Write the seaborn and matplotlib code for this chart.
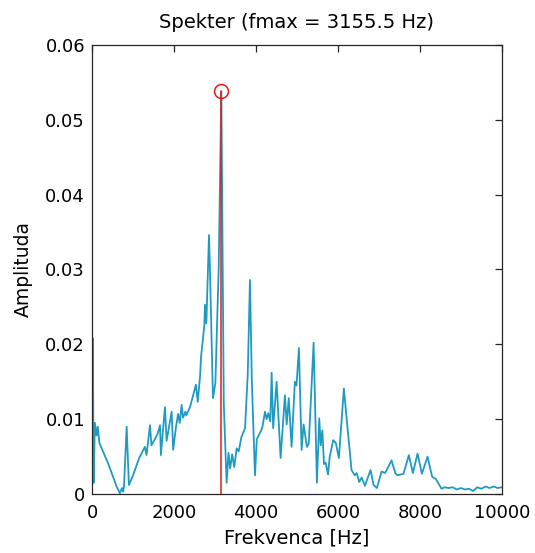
import matplotlib
matplotlib.use("Agg")
import matplotlib.pyplot as plt
import seaborn as sns
import pandas as pd

freq_hz = [0, 20, 40, 70, 110, 140, 180, 400, 600, 680, 730, 760, 780, 845, 900, 1000,
           1150, 1290, 1330, 1415, 1450, 1600, 1660, 1680, 1780, 1820, 1943, 1980, 2050,
           2100, 2140, 2187, 2220, 2280, 2300, 2390, 2536, 2580, 2640, 2658, 2740, 2756,
           2790, 2854, 2880, 2951, 3010, 3090, 3155.5, 3215, 3285, 3330, 3370, 3420, 3470,
           3530, 3580, 3640, 3734, 3800, 3854, 3900, 3976, 4020, 4080, 4120, 4160, 4220,
           4260, 4300, 4350, 4383, 4420, 4504, 4602, 4707, 4750, 4800, 4870, 4950, 4990,
           5049, 5114, 5163, 5244, 5290, 5407, 5488, 5545, 5580, 5620, 5660, 5700, 5760,
           5800, 5886, 5950, 6024, 6146, 6240, 6333, 6410, 6460, 6520, 6580, 6659, 6797,
           6870, 6951, 7065, 7150, 7200, 7309, 7400, 7450, 7600, 7732, 7830, 7943, 8050,
           8187, 8300, 8390, 8528, 8600, 8700, 8800, 8900, 9000, 9100, 9200, 9300, 9400,
           9500, 9600, 9700, 9800, 9900, 10000]
amplitude = [0.0010, 0.0208, 0.0015, 0.0095, 0.0078, 0.0090, 0.0068, 0.0040, 0.0010, 0.0001,
             0.0008, 0.0003, 0.0010, 0.0090, 0.0012, 0.0025, 0.0048, 0.0063, 0.0052, 0.0092,
             0.0065, 0.0080, 0.0092, 0.0052, 0.0116, 0.0071, 0.0110, 0.0059, 0.0090, 0.0107,
             0.0095, 0.0119, 0.0102, 0.0110, 0.0105, 0.0116, 0.0146, 0.0123, 0.0160, 0.0182,
             0.0225, 0.0253, 0.0228, 0.0346, 0.0295, 0.0128, 0.0148, 0.0300, 0.0538, 0.0120,
             0.0015, 0.0055, 0.0034, 0.0053, 0.0036, 0.0061, 0.0057, 0.0075, 0.0088, 0.0160,
             0.0286, 0.0150, 0.0025, 0.0073, 0.0080, 0.0084, 0.0090, 0.0110, 0.0100, 0.0108,
             0.0097, 0.0162, 0.0088, 0.0150, 0.0048, 0.0132, 0.0093, 0.0128, 0.0063, 0.0150,
             0.0145, 0.0195, 0.0059, 0.0093, 0.0063, 0.0068, 0.0202, 0.0015, 0.0101, 0.0065,
             0.0085, 0.0040, 0.0042, 0.0026, 0.0050, 0.0072, 0.0068, 0.0048, 0.0141, 0.0085,
             0.0032, 0.0025, 0.0028, 0.0016, 0.0022, 0.0011, 0.0032, 0.0012, 0.0008, 0.0030,
             0.0028, 0.0033, 0.0045, 0.0028, 0.0025, 0.0027, 0.0052, 0.0028, 0.0054, 0.0027,
             0.0050, 0.0023, 0.0020, 0.0007, 0.0009, 0.0008, 0.0009, 0.0006, 0.0008, 0.0006,
             0.0007, 0.0004, 0.0009, 0.0007, 0.0010, 0.0008, 0.0010, 0.0008, 0.0009]

f_max = 3155.5
a_max = 0.0538

x_ticks = [0, 2000, 4000, 6000, 8000, 10000]
x_tick_labels = ["0", "2000", "4000", "6000", "8000", "10000"]
y_ticks = [0, 0.01, 0.02, 0.03, 0.04, 0.05, 0.06]
y_tick_labels = ["0", "0.01", "0.02", "0.03", "0.04", "0.05", "0.06"]

sns.set_style("white")
plt.rcParams["font.family"] = ["DejaVu Sans"]
plt.rcParams["text.color"] = "black"
plt.rcParams["axes.labelcolor"] = "black"

df = pd.DataFrame({"Frekvenca": freq_hz, "Amplituda": amplitude})

fig = plt.figure(figsize=(5.35, 5.53), dpi=100)
ax = fig.add_axes([0.172, 0.1067, 0.766, 0.812])

sns.lineplot(data=df, x="Frekvenca", y="Amplituda", ax=ax, color="#1f9bc2",
             linewidth=1.3, estimator=None, sort=True)
ax.plot([f_max, f_max], [0, a_max], color="#e31a1c", linewidth=1.1)
ax.plot([f_max], [a_max], marker="o", markersize=10, markerfacecolor="none",
        markeredgecolor="#e31a1c", markeredgewidth=1.1, linestyle="none")

ax.set_xlim(0, 10000)
ax.set_ylim(0, 0.06)
ax.set_xticks(x_ticks)
ax.set_xticklabels(x_tick_labels)
ax.set_yticks(y_ticks)
ax.set_yticklabels(y_tick_labels)
ax.tick_params(direction="in", length=5, width=0.9, top=True, right=True,
               labelsize=13, colors="#262626", pad=5)
ax.tick_params(axis="x", pad=7)
ax.tick_params(axis="both", labelcolor="black")
for s in ax.spines.values():
    s.set_color("#262626")
    s.set_linewidth(0.9)

ax.set_xlabel("Frekvenca [Hz]", fontsize=14, labelpad=5, color="black")
ax.set_ylabel("Amplituda", fontsize=13.5, labelpad=9, color="black")
ax.set_title("Spekter (fmax = 3155.5 Hz)", fontsize=14, pad=12, color="black")

fig.savefig("out.png", dpi=100)
